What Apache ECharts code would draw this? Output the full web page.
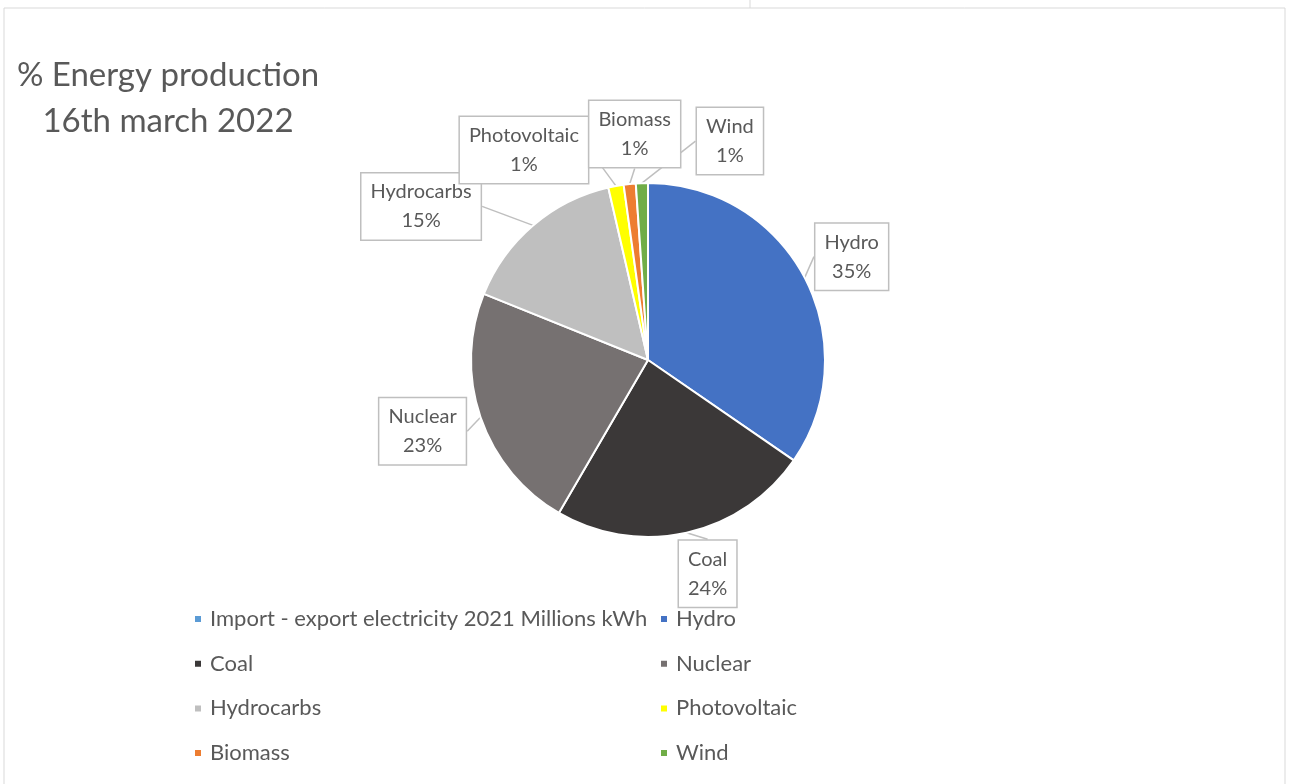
<!DOCTYPE html>
<html>
<head>
<meta charset="utf-8">
<script src="https://cdn.jsdelivr.net/npm/echarts@6/dist/echarts.min.js"></script>
<style>
  html, body { margin: 0; padding: 0; background: #fff; }
  #chart { width: 1295px; height: 784px; }
</style>
</head>
<body>
<div id="chart"></div>
<script>
// data (% share of production)
const categories = ['Import - export electricity 2021 Millions kWh', 'Hydro', 'Coal', 'Nuclear', 'Hydrocarbs', 'Photovoltaic', 'Biomass', 'Wind'];
const shares = [0, 34.6, 23.8, 22.7, 15.3, 1.4, 1.1, 1.1];
const colors = ['#5B9BD5', '#4472C4', '#3B3838', '#767171', '#BFBFBF', '#FFFF00', '#ED7D31', '#70AD47'];
const legendLeft = ['Import - export electricity 2021 Millions kWh', 'Coal', 'Hydrocarbs', 'Biomass'];
const legendRight = ['Hydro', 'Nuclear', 'Photovoltaic', 'Wind'];

// pie geometry
const pieCenter = [648, 360];
const pieRadius = 177;
// where each callout box sits, relative to the middle of its slice's rim (Excel style)
const calloutOffset = [[0, 0], [47, -21], [21, 41], [-58, 14], [-112, -19], [-92, -36], [5, -50], [88, -42]];

const chart = echarts.init(document.getElementById('chart'));

const txt = '#595959';
const font = 'Lato, "Open Sans", sans-serif';

const total = shares.reduce((a, b) => a + b, 0);
// mid angle of every slice, clockwise from 12 o'clock
const midAngle = [];
let acc = 0;
shares.forEach(v => {
  midAngle.push((acc + v / 2) / total * 2 * Math.PI);
  acc += v;
});

const pieData = categories.map((name, i) => {
  const item = { name: name, value: shares[i], itemStyle: { color: colors[i] } };
  if (shares[i] === 0) {
    item.label = { show: false };
    item.labelLine = { show: false };
  }
  return item;
});

const legendBase = {
  orient: 'vertical',
  top: 608,
  padding: 0,
  itemGap: 22.7,
  itemWidth: 8,
  itemHeight: 8,
  icon: 'rect',
  selectedMode: false,
  textStyle: { color: txt, fontSize: 22, lineHeight: 22, fontFamily: font, padding: [0, 0, 0, 3] }
};

const option = {
  animation: false,
  title: {
    text: '% Energy production\n16th march 2022',
    left: 168,
    top: 52,
    padding: 0,
    textAlign: 'center',
    textStyle: { color: txt, fontSize: 33, lineHeight: 46, fontWeight: 'normal', fontFamily: font }
  },
  legend: [
    Object.assign({}, legendBase, { left: 193, data: legendLeft }),
    Object.assign({}, legendBase, { left: 659, data: legendRight })
  ],
  graphic: [
    { type: 'line', shape: { x1: 4, y1: 8, x2: 1285, y2: 8 }, style: { stroke: '#D9D9D9', lineWidth: 1 } },
    { type: 'line', shape: { x1: 4, y1: 8, x2: 4, y2: 784 }, style: { stroke: '#D9D9D9', lineWidth: 1 } },
    { type: 'line', shape: { x1: 1285, y1: 8, x2: 1285, y2: 784 }, style: { stroke: '#D9D9D9', lineWidth: 1 } },
    { type: 'line', shape: { x1: 750, y1: 0, x2: 750, y2: 8 }, style: { stroke: '#D9D9D9', lineWidth: 1 } }
  ],
  series: [
    {
      type: 'pie',
      center: pieCenter,
      radius: pieRadius,
      startAngle: 90,
      clockwise: true,
      percentPrecision: 0,
      stillShowZeroSum: true,
      avoidLabelOverlap: false,
      itemStyle: { borderColor: '#fff', borderWidth: 2 },
      label: {
        show: true,
        position: 'outside',
        formatter: '{b}\n{d}%',
        color: txt,
        fontSize: 20,
        lineHeight: 29,
        fontFamily: font,
        align: 'center',
        backgroundColor: '#fff',
        borderColor: '#BFBFBF',
        borderWidth: 1.5,
        padding: [4, 9]
      },
      labelLine: {
        show: true,
        length: 10,
        length2: 0,
        lineStyle: { color: '#BFBFBF', width: 1.5 }
      },
      labelLayout: function (params) {
        const i = params.dataIndex;
        if (!shares[i]) return {};
        const a = midAngle[i];
        const off = calloutOffset[i];
        return {
          x: pieCenter[0] + pieRadius * Math.sin(a) + off[0],
          y: pieCenter[1] - pieRadius * Math.cos(a) + off[1],
          align: 'center',
          verticalAlign: 'middle'
        };
      },
      emphasis: { disabled: true },
      data: pieData
    }
  ]
};

chart.setOption(option);
</script>
</body>
</html>
